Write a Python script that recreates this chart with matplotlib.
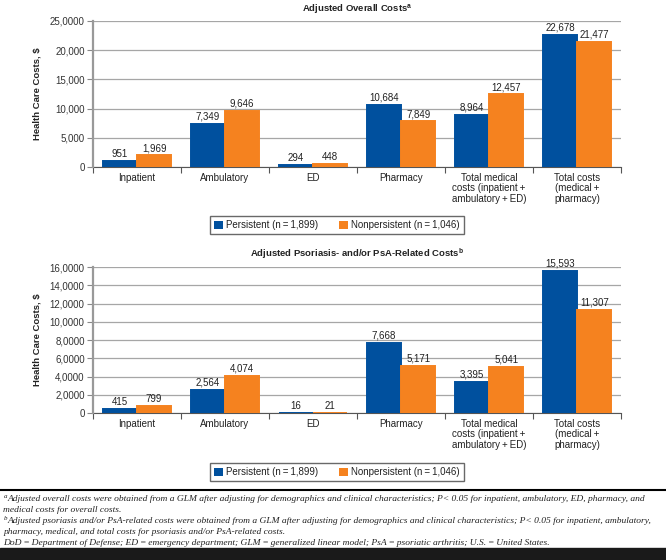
import numpy as np
import matplotlib.pyplot as plt
from matplotlib.patches import Patch

plt.rcParams['font.family'] = ['Liberation Sans', 'DejaVu Sans']

categorias = ["Inpatient", "Ambulatory", "ED", "Pharmacy",
              "Total medical\ncosts (inpatient\u2009+\nambulatory\u2009+\u2009ED)",
              "Total costs\n(medical\u2009+\npharmacy)"]

# Costos totales ajustados
total_persistente = [951, 7349, 294, 10684, 8964, 22678]
total_no_persistente = [1969, 9646, 448, 7849, 12457, 21477]

# Costos relacionados con psoriasis y/o PsA
psa_persistente = [415, 2564, 16, 7668, 3395, 15593]
psa_no_persistente = [799, 4074, 21, 5171, 5041, 11307]

ticks_total = [0, 5000, 10000, 15000, 20000, 25000]
etiquetas_total = ["0", "5,000", "10,000", "15,000", "20,000", "25,0000"]
ticks_psa = [0, 2000, 4000, 6000, 8000, 10000, 12000, 14000, 16000]
etiquetas_psa = ["0", "2,0000", "4,0000", "6,0000", "8,0000", "10,0000",
                 "12,0000", "14,0000", "16,0000"]

leyenda = ["Persistent (n\u2009=\u20091,899)", "Nonpersistent (n\u2009=\u20091,046)"]

azul = "#00509e"
naranja = "#f5821f"


def dibujar(ax, pers, nopers, ticks, etiquetas, titulo):
    x = np.arange(len(categorias))
    w = 0.39
    # borde del mismo color para que las barras muy bajas (ED) se vean
    b1 = ax.bar(x - w / 2, pers, w, color=azul, edgecolor=azul, linewidth=1.4, zorder=3)
    b2 = ax.bar(x + w / 2, nopers, w, color=naranja, edgecolor=naranja, linewidth=1.4, zorder=3)
    for barras in (b1, b2):
        ax.bar_label(barras, labels=[f"{v:,}" for v in barras.datavalues],
                     padding=1.5, fontsize=7, color="#222222")
    ax.set_xlim(-0.5, len(categorias) - 0.5)
    ax.set_ylim(0, ticks[-1])
    ax.set_yticks(ticks)
    ax.set_yticklabels(etiquetas, fontsize=7, color="#333333")
    ax.set_xticks(np.arange(len(categorias) + 1) - 0.5)
    ax.set_xticklabels([])
    ax.set_xticks(x, minor=True)
    ax.set_xticklabels(categorias, minor=True, fontsize=7, color="#222222",
                       linespacing=1.1, va="top")
    ax.tick_params(axis="x", which="minor", length=0, pad=4)
    ax.tick_params(axis="x", which="major", length=4, color="#555555")
    ax.tick_params(axis="y", length=4, color="#888888", pad=2)
    ax.grid(axis="y", color="#a6a6a6", linewidth=0.9, zorder=0)
    ax.spines["top"].set_visible(False)
    ax.spines["right"].set_visible(False)
    ax.spines["left"].set_color("#999999")
    ax.spines["left"].set_linewidth(1.6)
    ax.spines["bottom"].set_color("#555555")
    ax.spines["bottom"].set_zorder(2)
    ax.set_ylabel("Health Care Costs, $", fontsize=6.8, fontweight="bold",
                  color="#222222", labelpad=6)
    ax.set_title(titulo, fontsize=6.8, fontweight="bold", color="#222222", pad=7)


fig = plt.figure(figsize=(6.66, 5.6), dpi=100)
ax1 = fig.add_axes([0.1396, 0.7018, 0.793, 0.2607])
ax2 = fig.add_axes([0.1396, 0.2625, 0.793, 0.2607])

dibujar(ax1, total_persistente, total_no_persistente, ticks_total, etiquetas_total,
        "Adjusted Overall Costs$^{\\mathregular{a}}$")
dibujar(ax2, psa_persistente, psa_no_persistente, ticks_psa, etiquetas_psa,
        "Adjusted Psoriasis- and/or PsA-Related Costs$^{\\mathregular{b}}$")

manejadores = [Patch(facecolor=azul), Patch(facecolor=naranja)]
for y in (0.598, 0.157):
    leg = fig.legend(manejadores, leyenda, loc="center", bbox_to_anchor=(0.506, y),
                     ncol=2, fontsize=7, frameon=True, fancybox=False,
                     handlelength=0.9, handleheight=0.9, handletextpad=0.3,
                     columnspacing=2.2, borderpad=0.45, edgecolor="#444444")
    leg.get_frame().set_linewidth(1.0)
    for t in leg.get_texts():
        t.set_color("#222222")

# Línea separadora y notas al pie
fig.add_artist(plt.Line2D([0, 1], [0.125, 0.125], color="black", linewidth=1.5))
fig.add_artist(plt.Rectangle((0, 0), 1, 0.0214, color="#1a1a1a", transform=fig.transFigure))

notas = [
    ("a", "Adjusted overall costs were obtained from a GLM after adjusting for demographics and clinical characteristics; P< 0.05 for inpatient, ambulatory, ED, pharmacy, and"),
    ("", "medical costs for overall costs."),
    ("b", "Adjusted psoriasis and/or PsA-related costs were obtained from a GLM after adjusting for demographics and clinical characteristics; P< 0.05 for inpatient, ambulatory,"),
    ("", "pharmacy, medical, and total costs for psoriasis and/or PsA-related costs."),
    ("", "DoD\u2009=\u2009Department of Defense; ED\u2009=\u2009emergency department; GLM\u2009=\u2009generalized linear model; PsA\u2009=\u2009psoriatic arthritis; U.S.\u2009=\u2009United States."),
]
ys = [499, 510, 521, 532, 543]
for (sup, texto), ypx in zip(notas, ys):
    y = 1 - ypx / 560
    x0 = 0.005
    if sup:
        fig.text(x0, y + 0.004, sup, fontsize=5, style="italic",
                 family=["Liberation Serif", "DejaVu Serif"], va="center", color="#222222")
        x0 = 0.0115
    fig.text(x0, y, texto, fontsize=6.8, style="italic",
             family=["Liberation Serif", "DejaVu Serif"], va="center", color="#222222")

fig.savefig("out.png", dpi=100)
